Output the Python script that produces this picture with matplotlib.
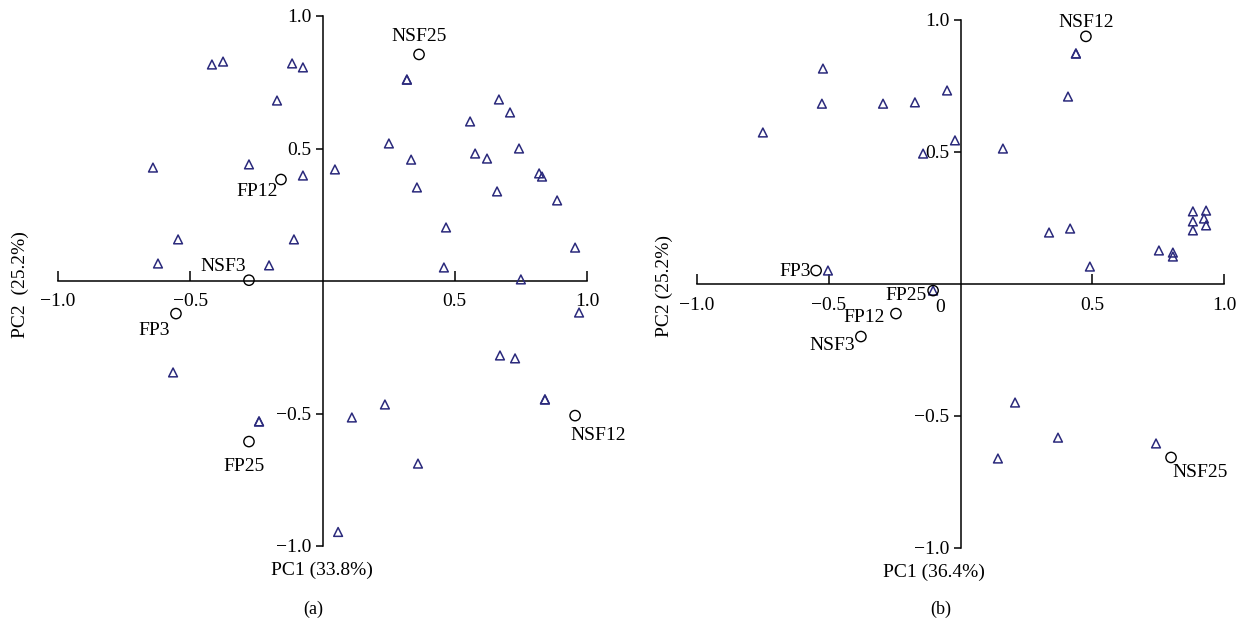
import matplotlib
matplotlib.use('Agg')
import matplotlib.pyplot as plt

plt.rcParams['font.family'] = ['Liberation Serif', 'DejaVu Serif']
plt.rcParams['font.size'] = 14
plt.rcParams['axes.unicode_minus'] = True

# ---- panel (a) : loadings (triangles) and samples (circles)
a_tri_x = [-0.418, -0.376, -0.115, -0.074, -0.172, -0.641, -0.278, -0.074, -0.546, -0.108,
           -0.622, -0.202, 0.319, 0.319, 0.667, 0.709, 0.558, 0.251, 0.743, 0.577,
           0.622, 0.335, 0.047, 0.819, 0.830, 0.357, 0.660, 0.887, 0.467, 0.955,
           0.459, 0.750, -0.565, -0.240, -0.240, 0.970, 0.671, 0.728, 0.841, 0.841,
           0.236, 0.111, 0.361, 0.059]
a_tri_y = [0.817, 0.828, 0.821, 0.806, 0.681, 0.428, 0.440, 0.398, 0.157, 0.157,
           0.066, 0.059, 0.760, 0.760, 0.685, 0.636, 0.602, 0.519, 0.500, 0.481,
           0.462, 0.458, 0.421, 0.406, 0.394, 0.353, 0.338, 0.304, 0.202, 0.126,
           0.051, 0.006, -0.345, -0.530, -0.530, -0.119, -0.281, -0.292, -0.447, -0.447,
           -0.466, -0.515, -0.689, -0.947]
a_names = ['NSF25', 'FP12', 'NSF3', 'FP3', 'FP25', 'NSF12']
a_cx = [0.365, -0.157, -0.278, -0.554, -0.278, 0.955]
a_cy = [0.855, 0.383, 0.003, -0.123, -0.606, -0.508]

# ---- panel (b)
b_tri_x = [-0.522, -0.526, -0.294, -0.173, -0.051, -0.750, -0.021, -0.142, -0.503, -0.104,
           0.438, 0.438, 0.408, 0.161, 0.882, 0.932, 0.924, 0.882, 0.932, 0.882,
           0.336, 0.416, 0.753, 0.806, 0.806, 0.491, 0.207, 0.370, 0.142, 0.742]
b_tri_y = [0.816, 0.683, 0.683, 0.688, 0.733, 0.574, 0.544, 0.494, 0.051, -0.025,
           0.873, 0.873, 0.710, 0.513, 0.275, 0.278, 0.248, 0.237, 0.222, 0.203,
           0.195, 0.210, 0.127, 0.119, 0.104, 0.066, -0.449, -0.582, -0.661, -0.604]
b_names = ['NSF12', 'FP3', 'FP25', 'FP12', 'NSF3', 'NSF25']
b_cx = [0.476, -0.548, -0.104, -0.245, -0.378, 0.799]
b_cy = [0.938, 0.051, -0.025, -0.112, -0.199, -0.657]

xtick_vals = [-1.0, -0.5, 0.5, 1.0]
xtick_labels = ['\u22121.0', '\u22120.5', '0.5', '1.0']
ytick_vals = [-1.0, -0.5, 0.5, 1.0]
ytick_labels = ['\u22121.0', '\u22120.5', '0.5', '1.0']

# label offsets in pixels (dx, dy, ha)
a_offsets = [(0, 18, 'center'), (-3, -12, 'right'), (-3, 14, 'right'),
             (-6, -17, 'right'), (-5, -25, 'center'), (-5, -20, 'left')]
b_offsets = [(0, 14, 'center'), (-5, -1, 'right'), (-6, -5, 'right'),
             (-11, -4, 'right'), (-6, -9, 'right'), (1, -15, 'left')]

W, H = 1244, 623
fig = plt.figure(figsize=(W / 100, H / 100), dpi=100)
ax_a = fig.add_axes([58 / W, 1 - 546 / H, 529 / W, 530 / H])
ax_b = fig.add_axes([697 / W, 1 - 548 / H, 527 / W, 528 / H])

tri_color = '#2b2a7c'


def draw_panel(ax, tx, ty, names, cx, cy, offsets):
    ax.set_xlim(-1, 1)
    ax.set_ylim(-1, 1)
    for s in ['top', 'right']:
        ax.spines[s].set_visible(False)
    ax.spines['left'].set_position(('data', 0))
    ax.spines['bottom'].set_position(('data', 0))
    for s in ['left', 'bottom']:
        ax.spines[s].set_linewidth(1.1)
    ax.set_xticks(xtick_vals)
    ax.set_xticklabels(xtick_labels)
    ax.set_yticks(ytick_vals)
    ax.set_yticklabels(ytick_labels)
    ax.tick_params(axis='x', direction='in', length=7, width=1.1, pad=9)
    ax.tick_params(axis='y', direction='out', length=5, width=1.1, pad=3)
    ax.patch.set_visible(False)

    ax.scatter(tx, ty, marker='^', s=40, facecolors='none', edgecolors=tri_color,
               linewidths=1.1, clip_on=False, zorder=3)
    ax.scatter(cx, cy, marker='o', s=55, facecolors='none', edgecolors='black',
               linewidths=1.0, clip_on=False, zorder=3)
    for name, x, y, (dx, dy, ha) in zip(names, cx, cy, offsets):
        ax.annotate(name, (x, y), xytext=(dx, dy), textcoords='offset pixels',
                    ha=ha, va='center', fontsize=14)


draw_panel(ax_a, a_tri_x, a_tri_y, a_names, a_cx, a_cy, a_offsets)
draw_panel(ax_b, b_tri_x, b_tri_y, b_names, b_cx, b_cy, b_offsets)

# stray origin label in panel (b)
fig.text(940 / W, 1 - 307 / H, '0', ha='center', va='center', fontsize=14)

# axis titles
fig.text(20 / W, 1 - 285 / H, 'PC2  (25.2%)', rotation=90, ha='center', va='center', fontsize=14)
fig.text(664 / W, 1 - 286 / H, 'PC2 (25.2%)', rotation=90, ha='center', va='center', fontsize=14)
fig.text(322 / W, 1 - 570 / H, 'PC1 (33.8%)', ha='center', va='center', fontsize=14)
fig.text(934 / W, 1 - 572 / H, 'PC1 (36.4%)', ha='center', va='center', fontsize=14)
fig.text(313 / W, 1 - 609 / H, '(a)', ha='center', va='center', fontsize=13)
fig.text(941 / W, 1 - 609 / H, '(b)', ha='center', va='center', fontsize=13)

fig.savefig('out.png', dpi=100)
